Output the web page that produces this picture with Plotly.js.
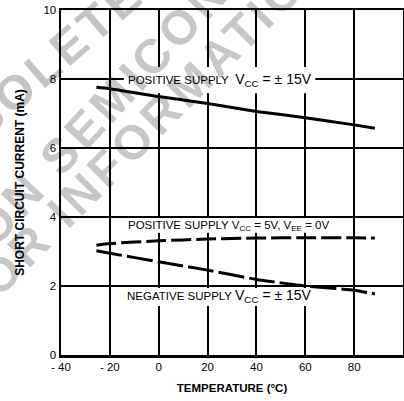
<!DOCTYPE html>
<html>
<head>
<meta charset="utf-8">
<script src="https://cdn.plot.ly/plotly-3.0.1.min.js"></script>
<style>
  html, body { margin: 0; padding: 0; background: #fff; }
  #chart { width: 404px; height: 401px; }
</style>
</head>
<body>
<div id="chart"></div>
<script>
// Temperature (°C) sample points
const temps = [-25.5, -20, 0, 20, 40, 60, 80, 88.5];
// Short circuit current (mA)
const posSupply15 = [7.76, 7.72, 7.49, 7.29, 7.06, 6.88, 6.67, 6.57];
const posSupply5 = [3.18, 3.23, 3.31, 3.36, 3.39, 3.40, 3.40, 3.39];
const negSupply15 = [3.02, 2.95, 2.70, 2.46, 2.19, 2.00, 1.88, 1.77];

// Axis ticks
const xTickVals = [-40, -20, 0, 20, 40, 60, 80];
const xTickText = ['- 40', '- 20', '0', '20', '40', '60', '80'];
const yTickVals = [0, 2, 4, 6, 8, 10];
const yTickText = ['0', '2', '4', '6', '8', '10'];

// Curve labels
const labelTexts = [
  'POSITIVE SUPPLY\u00A0\u00A0<span style="font-size:14px">V<sub>CC</sub> = ± 15V</span>',
  'POSITIVE SUPPLY V<sub>CC</sub> = 5V, V<sub>EE</sub> = 0V',
  'NEGATIVE SUPPLY <span style="font-size:14px">V<sub>CC</sub> = ± 15V</span>'
];
// Watermark words
const watermark = ['OBSOLETE', 'ON SEMICONDUCTOR', 'FOR INFORMATION ONLY'];

const FONT = 'Liberation Sans, Arial, Helvetica, sans-serif';

const traces = [
  { x: temps, y: posSupply15, mode: 'lines', line: { color: '#000', width: 3, shape: 'spline', smoothing: 0.5 }, hoverinfo: 'skip' },
  { x: temps, y: posSupply5, mode: 'lines', line: { color: '#000', width: 3, dash: '20px,5px', shape: 'spline', smoothing: 0.5 }, hoverinfo: 'skip' },
  { x: temps, y: negSupply15, mode: 'lines', line: { color: '#000', width: 3, dash: '26px,5px', shape: 'spline', smoothing: 0.5 }, hoverinfo: 'skip' }
];

// white boxes that break the grid behind each curve label
const boxes = [
  [-14.3, 64.1, 7.59, 8.35],
  [-14.3, 72.2, 3.54, 3.97],
  [-15.1, 64.9, 1.42, 1.94]
].map(b => ({
  type: 'rect', xref: 'x', yref: 'y', x0: b[0], x1: b[1], y0: b[2], y1: b[3],
  fillcolor: '#fff', line: { width: 0 }, layer: 'between'
}));

const labelPos = [[25.1, 7.96], [28.6, 3.75], [24.7, 1.71]];
const labelAnns = labelTexts.map((t, i) => ({
  text: t, x: labelPos[i][0], y: labelPos[i][1], xref: 'x', yref: 'y',
  xanchor: 'center', yanchor: 'middle', showarrow: false,
  font: { family: FONT, size: 11.5, color: '#000' }
}));

const wmPos = [[-0.105, 0.786], [0.348, 0.951], [0.409, 0.817]];
const wmAngle = [-41, -47, -45];
const wmAnns = watermark.map((t, i) => ({
  text: t, x: wmPos[i][0], y: wmPos[i][1], xref: 'paper', yref: 'paper',
  xanchor: 'center', yanchor: 'middle', showarrow: false, textangle: wmAngle[i],
  font: { family: FONT, size: 48, weight: 'bold', color: 'rgba(0,0,0,0.23)' }
}));

const layout = {
  width: 404, height: 401,
  margin: { l: 61, r: 1, t: 10, b: 46, pad: 0 },
  paper_bgcolor: '#fff', plot_bgcolor: '#fff',
  showlegend: false,
  xaxis: {
    range: [-40, 100], tickvals: xTickVals, ticktext: xTickText,
    showgrid: true, gridcolor: '#000', gridwidth: 2, zeroline: false,
    showline: true, mirror: true, linecolor: '#000', linewidth: 2.5,
    ticks: '', ticklabelstandoff: 0,
    tickfont: { family: FONT, size: 11.5, color: '#000' },
    title: { text: 'TEMPERATURE (°C)', standoff: 12, font: { family: FONT, size: 11.5, weight: 'bold', color: '#000' } },
    fixedrange: true
  },
  yaxis: {
    range: [0, 10], tickvals: yTickVals, ticktext: yTickText,
    showgrid: true, gridcolor: '#000', gridwidth: 2, zeroline: false,
    showline: true, mirror: true, linecolor: '#000', linewidth: 2.5,
    ticks: '', ticklabelstandoff: 0,
    tickfont: { family: FONT, size: 11.5, color: '#000' },
    title: { text: 'SHORT CIRCUIT CURRENT (mA)', standoff: 16, font: { family: FONT, size: 12, weight: 'bold', color: '#000' } },
    fixedrange: true
  },
  shapes: boxes,
  annotations: labelAnns.concat(wmAnns)
};

Plotly.newPlot('chart', traces, layout, { staticPlot: true, displayModeBar: false }).then(gd => {
  // widen the watermark lettering like the stamped original
  gd.querySelectorAll('g.annotation').forEach(g => {
    const idx = +g.getAttribute('data-index');
    if (idx >= labelTexts.length) {
      const t = g.querySelector('text.annotation-text');
      if (t) t.style.letterSpacing = '4px';
    }
  });
});
</script>
</body>
</html>
